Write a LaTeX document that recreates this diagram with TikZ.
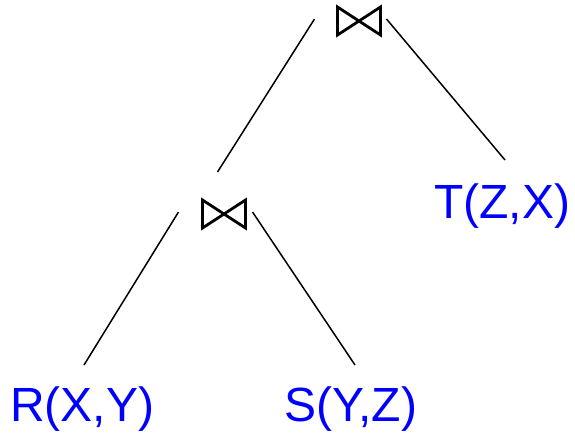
\documentclass[tikz,border=0pt]{standalone}
\usepackage{fontspec}
\setmainfont{Liberation Sans}
\usetikzlibrary{calc}
\begin{document}
\begin{tikzpicture}[x=1pt,y=-1pt,
  joinop/.style={minimum width=43pt,minimum height=28pt,inner sep=0pt,outer sep=0pt},
  bowtie/.style={line width=2.8pt,line join=miter},
  rel/.style={anchor=base,inner sep=0pt,text=blue,font=\fontsize{48}{48}\selectfont},
  edge/.style={line width=1.5pt}]
\useasboundingbox (0,0) rectangle (575,432);
% join operators
\node[joinop] (j1) at (359,21) {};
\node[joinop] (j2) at (224,214) {};
\foreach \j in {j1,j2}
  \draw[bowtie] (\j.north west) -- (\j.south east) -- (\j.north east) -- (\j.south west) -- cycle;
% relations
\node[rel] (t) at (502,218) {T(Z,X)};
\node[rel] (r) at (82,421) {R(X,Y)};
\node[rel] (s) at (351,421) {S(Y,Z)};
% tree edges
\draw[edge] ($(j1.west)+(-23,-2)$) -- ($(j2.north west)+(15,-28)$);
\draw[edge] ($(j1.east)+(6,-2)$) -- ($(t.base)+(3,-58)$);
\draw[edge] ($(j2.west)+(-24,-2)$) -- ($(r.base)+(2,-56)$);
\draw[edge] ($(j2.east)+(7,-2)$) -- ($(s.base)+(4,-56)$);
\end{tikzpicture}
\end{document}
